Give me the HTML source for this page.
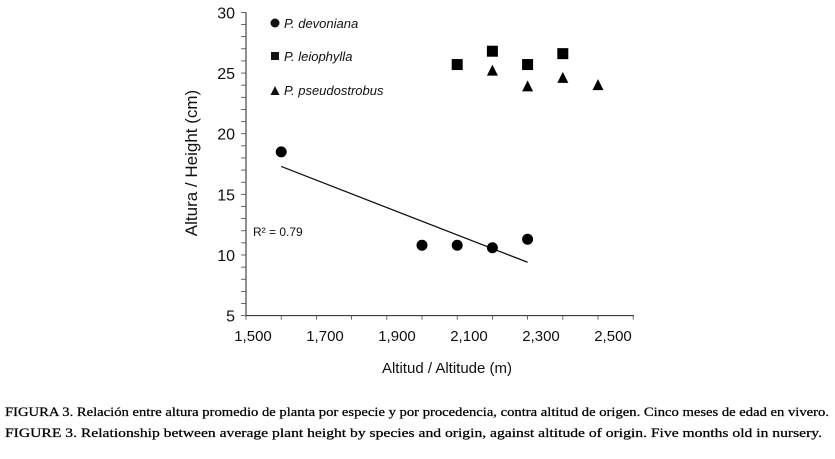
<!DOCTYPE html>
<html><head><meta charset="utf-8"><style>
html,body{margin:0;padding:0;background:#fff;width:835px;height:459px;overflow:hidden}
svg{display:block}
</style></head><body>
<svg id="chart" width="835" height="459" xmlns="http://www.w3.org/2000/svg" font-family="Liberation Sans, sans-serif">
<g id="axes"></g>
<g id="marks"></g>
<text transform="translate(197,163) rotate(-90)" text-anchor="middle" font-size="17" fill="#111">Altura / Height (cm)</text>
<text x="447" y="373" text-anchor="middle" font-size="15" fill="#111">Altitud / Altitude (m)</text>
<text x="253" y="236" font-size="12" fill="#111">R² = 0.79</text>
<g font-size="13" font-style="italic" fill="#111">
<circle cx="275" cy="23" r="4.5"/>
<text x="284" y="28">P. devoniana</text>
<rect x="271" y="52" width="8" height="8"/>
<text x="284" y="61">P. leiophylla</text>
<polygon points="275,86 279.5,95 270.5,95"/>
<text x="284" y="95">P. pseudostrobus</text>
</g>
<g font-family="Liberation Serif, serif" font-size="12.5" fill="#000" stroke="#000" stroke-width="0.25">
<text x="5" y="416" textLength="824" lengthAdjust="spacingAndGlyphs">FIGURA 3. Relación entre altura promedio de planta por especie y por procedencia, contra altitud de origen. Cinco meses de edad en vivero.</text>
<text x="5" y="437" textLength="817" lengthAdjust="spacingAndGlyphs">FIGURE 3. Relationship between average plant height by species and origin, against altitude of origin. Five months old in nursery.</text>
</g>
</svg>
<script>
const xTickLabels = ["1,500","1,700","1,900","2,100","2,300","2,500"];
const yTickLabels = [5,10,15,20,25,30];
const devAlt = [1600,2000,2100,2200,2300];
const devHeight = [18.5,10.8,10.8,10.6,11.3];
const leiAlt = [2100,2200,2300,2400];
const leiHeight = [25.7,26.8,25.7,26.6];
const pseAlt = [2200,2300,2400,2500];
const pseHeight = [25.2,23.9,24.6,24.0];
const trendAlt = [1600,2300];
const trendHeight = [17.3,9.4];

const NS="http://www.w3.org/2000/svg";
const x = v => 246 + (v-1500)*0.352;
const y = v => 255 - (v-10)*12.13;
const xl = i => 253 + i*72;
function mk(tag, attrs, parent){const e=document.createElementNS(NS,tag);for(const k in attrs)e.setAttribute(k,attrs[k]);parent.appendChild(e);return e;}
const axes=document.getElementById('axes'), marks=document.getElementById('marks');
let e;
e=mk('line',{x1:246,y1:y(30),x2:246,y2:y(5),stroke:'#222','stroke-width':1},axes);


e=mk('line',{x1:246,y1:y(5),x2:634,y2:y(5),stroke:'#222','stroke-width':1},axes);


for(let v=5; v<=30; v++){
  e=mk('line',{x1:241,y1:y(v),x2:246,y2:y(v),stroke:'#444','stroke-width':0.8},axes);
  
  
}
for(let i=0;i<=11;i++){
  e=mk('line',{x1:246+i*35.2,y1:y(5),x2:246+i*35.2,y2:y(5)+4,stroke:'#444','stroke-width':0.8},axes);
  
  
}
yTickLabels.forEach(v=>{
  e=mk('text',{x:235,y:y(v)+6,'text-anchor':'end','font-size':16,fill:'#111'},axes);
  e.textContent=v;
  
  
});
xTickLabels.forEach((t,i)=>{
  e=mk('text',{x:xl(i),y:341,'text-anchor':'middle','font-size':15,fill:'#111'},axes);
  e.textContent=t;
  
  
});
e=mk('line',{x1:x(trendAlt[0]),y1:y(trendHeight[0]),x2:x(trendAlt[1]),y2:y(trendHeight[1]),stroke:'#111','stroke-width':1.3},marks);


devAlt.forEach((a,i)=>{
  e=mk('circle',{cx:x(a),cy:y(devHeight[i]),r:5.5,fill:'#000'},marks);
  
  
});
leiAlt.forEach((a,i)=>{
  e=mk('rect',{x:x(a)-5.5,y:y(leiHeight[i])-5.5,width:11,height:11,fill:'#000'},marks);
  
  
});
pseAlt.forEach((a,i)=>{
  const cx=x(a), cy=y(pseHeight[i]);
  e=mk('polygon',{points:`${cx},${cy-6} ${cx+5.5},${cy+5} ${cx-5.5},${cy+5}`,fill:'#000'},marks);
  
  
});
</script>
</body></html>
